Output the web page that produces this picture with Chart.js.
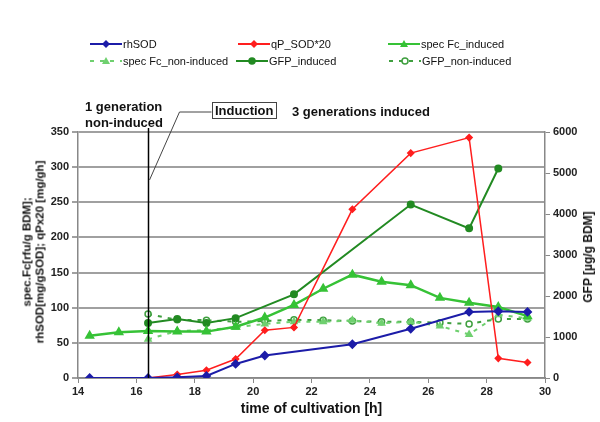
<!DOCTYPE html>
<html>
<head>
  <meta charset="utf-8">
  <title>Cultivation: rhSOD, qP and GFP</title>
  <script src="https://cdn.jsdelivr.net/npm/chart.js"></script>
  <style>
    body {
      margin: 0;
      background: #fff;
      font-family: Arial, "Liberation Sans", sans-serif;
    }
    #wrap { position: relative; width: 600px; height: 422px; }
    canvas { position: absolute; left: 0; top: 0; }
    .lg { position: absolute; font-size: 11px; color: #111; white-space: nowrap; display: flex; align-items: center; }
    .lg svg { margin-right: 1px; }
    .note { position: absolute; font-weight: bold; font-size: 13px; color: #111; white-space: nowrap; line-height: 16px; }
    .box { border: 1.5px solid #444; padding: 0 2px; line-height: 15px; }
    .vtitle { position: absolute; font-weight: bold; font-size: 12px; color: #111; text-align: center;
              white-space: nowrap; transform: translate(-50%, -50%) rotate(-90deg); }
  </style>
</head>
<body>
  <div id="wrap">
    <canvas id="chart" width="600" height="422"></canvas>
    <div id="legend"></div>
    <div class="note" style="left:85px; top:99px;">1 generation<br>non-induced</div>
    <div class="note box" style="left:212px; top:102px;">Induction</div>
    <div class="note" style="left:292px; top:104px;">3 generations induced</div>
    <div class="vtitle" id="ltitle" style="left:33px; top:252px; font-size:11.5px; line-height:12.5px;"></div>
    <div class="vtitle" id="rtitle" style="left:588px; top:257px;"></div>
  </div>

  <script>
    // ----- data -----
    // x = time of cultivation [h]
    const hoursSOD   = [14.4, 16.4, 17.4, 18.4, 19.4, 20.4, 23.4, 25.4, 27.4, 28.4, 29.4];
    const rhSOD      = [0, 0, 1, 3, 20, 32, 48, 70, 94, 95, 94];

    const hoursQP    = [16.4, 17.4, 18.4, 19.4, 20.4, 21.4, 23.4, 25.4, 27.4, 28.4, 29.4];
    const qPSOD20    = [0, 5, 11, 27, 68, 72, 240, 320, 342, 28, 22];

    const hoursFcInd = [14.4, 15.4, 16.4, 17.4, 18.4, 19.4, 20.4, 21.4, 22.4, 23.4, 24.4, 25.4, 26.4, 27.4, 28.4, 29.4];
    const specFcInd  = [60, 65, 67, 66, 66, 73, 86, 104, 127, 147, 137, 132, 114, 107, 101, 88];

    const hoursNon   = [16.4, 17.4, 18.4, 19.4, 20.4, 21.4, 22.4, 23.4, 24.4, 25.4, 26.4, 27.4, 28.4, 29.4];
    const specFcNon  = [55, 67, 68, 72, 77, 80, 80, 82, 78, 80, 74, 62, 90, 85];

    const hoursGFP   = [16.4, 17.4, 18.4, 19.4, 21.4, 25.4, 27.4, 28.4];
    const gfpInd     = [1340, 1440, 1340, 1460, 2040, 4230, 3650, 5110];   // right axis
    const gfpNon     = [1560, 1420, 1410, 1370, 1390, 1420, 1410, 1390, 1370, 1370, 1350, 1320, 1440, 1440]; // right axis, hoursNon

    const seriesNames = ["rhSOD", "qP_SOD*20", "spec Fc_induced", "spec Fc_non-induced", "GFP_induced", "GFP_non-induced"];
    const inductionHour = 16.4;

    const xTicks  = [14, 16, 18, 20, 22, 24, 26, 28, 30];
    const yTicks  = [0, 50, 100, 150, 200, 250, 300, 350];
    const y1Ticks = [0, 1000, 2000, 3000, 4000, 5000, 6000];

    const leftTitle  = ["spec.Fc[rfu/g BDM];", "rhSOD[mg/gSOD]; qPx20 [mg/gh]"];
    const rightTitle = "GFP [\u00b5g/g BDM]";
    const xTitle     = "time of cultivation [h]";

    const pts = (xs, ys) => xs.map((x, i) => ({ x: x, y: ys[i] }));

    const BLUE = "#1c1ca8", RED = "#ff1e1e", LGREEN = "#36c236", DGREEN = "#228a22";
    const LGREEN2 = "#6fd06f", DGREEN2 = "#3f9f3f";

    const datasets = [
      { label: seriesNames[0], data: pts(hoursSOD, rhSOD), borderColor: BLUE, backgroundColor: BLUE,
        borderWidth: 2, pointStyle: "rectRot", pointRadius: 3.5, yAxisID: "y" },
      { label: seriesNames[1], data: pts(hoursQP, qPSOD20), borderColor: RED, backgroundColor: RED,
        borderWidth: 1.5, pointStyle: "rectRot", pointRadius: 3, yAxisID: "y" },
      { label: seriesNames[2], data: pts(hoursFcInd, specFcInd), borderColor: LGREEN, backgroundColor: LGREEN,
        borderWidth: 2.5, pointStyle: "triangle", pointRadius: 3.5, yAxisID: "y" },
      { label: seriesNames[3], data: pts(hoursNon, specFcNon), borderColor: LGREEN2, backgroundColor: LGREEN2,
        borderWidth: 2, borderDash: [4, 6], pointStyle: "triangle", pointRadius: 3, yAxisID: "y" },
      { label: seriesNames[4], data: pts(hoursGFP, gfpInd), borderColor: DGREEN, backgroundColor: DGREEN,
        borderWidth: 2, pointStyle: "circle", pointRadius: 3, yAxisID: "y1" },
      { label: seriesNames[5], data: pts(hoursNon, gfpNon), borderColor: DGREEN2, backgroundColor: "#fff",
        borderWidth: 2, borderDash: [4, 6], pointStyle: "circle", pointRadius: 3, pointBorderWidth: 1.5, yAxisID: "y1" }
    ];

    // vertical induction line + leader to the "Induction" box
    const inductionMarks = {
      id: "inductionMarks",
      afterDatasetsDraw(chart) {
        const ctx = chart.ctx;
        const xv = Math.round(chart.scales.x.getPixelForValue(inductionHour)) + 0.5;
        const a = chart.chartArea;
        ctx.save();
        ctx.strokeStyle = "#000";
        ctx.lineWidth = 1.5;
        ctx.beginPath();
        ctx.moveTo(xv, a.top - 4);
        ctx.lineTo(xv, a.bottom);
        ctx.stroke();
        ctx.strokeStyle = "#444";
        ctx.lineWidth = 1;
        ctx.beginPath();
        ctx.moveTo(xv + 1, 180);
        ctx.lineTo(xv + 31, 112);
        ctx.lineTo(xv + 63, 112);
        ctx.stroke();
        ctx.restore();
      }
    };

    const FONT = "Arial, 'Liberation Sans', sans-serif";
    const tickFont = { family: FONT, size: 11, weight: "bold" };

    new Chart(document.getElementById("chart").getContext("2d"), {
      type: "line",
      data: { datasets: datasets },
      options: {
        responsive: false,
        animation: false,
        layout: { padding: { top: 132, left: 0, right: 0, bottom: 0 } },
        plugins: { legend: { display: false }, tooltip: { enabled: false } },
        scales: {
          x: {
            type: "linear", min: 14, max: 30,
            afterBuildTicks: s => { s.ticks = xTicks.map(v => ({ value: v })); },
            afterFit: s => { s.height = 44; },
            ticks: { font: tickFont, color: "#222", padding: 2 },
            grid: { drawOnChartArea: false, color: "#888", tickLength: 5 },
            border: { color: "#888", width: 1.5 },
            title: { display: true, text: xTitle, color: "#111",
                     font: { family: FONT, size: 14, weight: "bold" }, padding: { top: 0 } }
          },
          y: {
            position: "left", min: 0, max: 350,
            afterBuildTicks: s => { s.ticks = yTicks.map(v => ({ value: v })); },
            afterFit: s => { s.width = 78; },
            ticks: { font: tickFont, color: "#222", padding: 3 },
            grid: { color: "#a0a0a0", lineWidth: 2, tickLength: 6 },
            border: { color: "#888", width: 1.5 }
          },
          y1: {
            position: "right", min: 0, max: 6000,
            afterBuildTicks: s => { s.ticks = y1Ticks.map(v => ({ value: v })); },
            afterFit: s => { s.width = 55; },
            ticks: { font: tickFont, color: "#222", padding: 3, callback: v => String(v) },
            grid: { drawOnChartArea: false, color: "#888", tickLength: 5 },
            border: { color: "#888", width: 1.5 }
          }
        }
      },
      plugins: [inductionMarks]
    });

    // vertical axis titles (both read bottom-to-top, as in the figure)
    const lt = document.getElementById("ltitle");
    leftTitle.forEach((line, i) => {
      if (i) lt.appendChild(document.createElement("br"));
      lt.appendChild(document.createTextNode(line));
    });
    document.getElementById("rtitle").textContent = rightTitle;

    // ----- legend (html, two rows of three) -----
    const legendSpots = [[90, 44], [238, 44], [388, 44], [90, 61], [236, 61], [389, 61]];
    function marker(style, color, fill) {
      if (style === "rectRot") return '<polygon points="16,1 20,5 16,9 12,5" fill="' + color + '"/>';
      if (style === "triangle") return '<polygon points="16,1 20,8 12,8" fill="' + color + '"/>';
      return '<circle cx="16" cy="5" r="3" fill="' + fill + '" stroke="' + color + '" stroke-width="1.5"/>';
    }
    const legend = document.getElementById("legend");
    datasets.forEach((d, i) => {
      const el = document.createElement("div");
      el.className = "lg";
      el.style.left = legendSpots[i][0] + "px";
      el.style.top = (legendSpots[i][1] - 6) + "px";
      const dash = d.borderDash ? ' stroke-dasharray="4,6"' : "";
      el.innerHTML = '<svg width="32" height="10"><line x1="0" y1="5" x2="32" y2="5" stroke="' + d.borderColor +
        '" stroke-width="2"' + dash + '/>' + marker(d.pointStyle, d.borderColor, d.backgroundColor) + '</svg>' +
        '<span>' + d.label + '</span>';
      legend.appendChild(el);
    });
  </script>
</body>
</html>
